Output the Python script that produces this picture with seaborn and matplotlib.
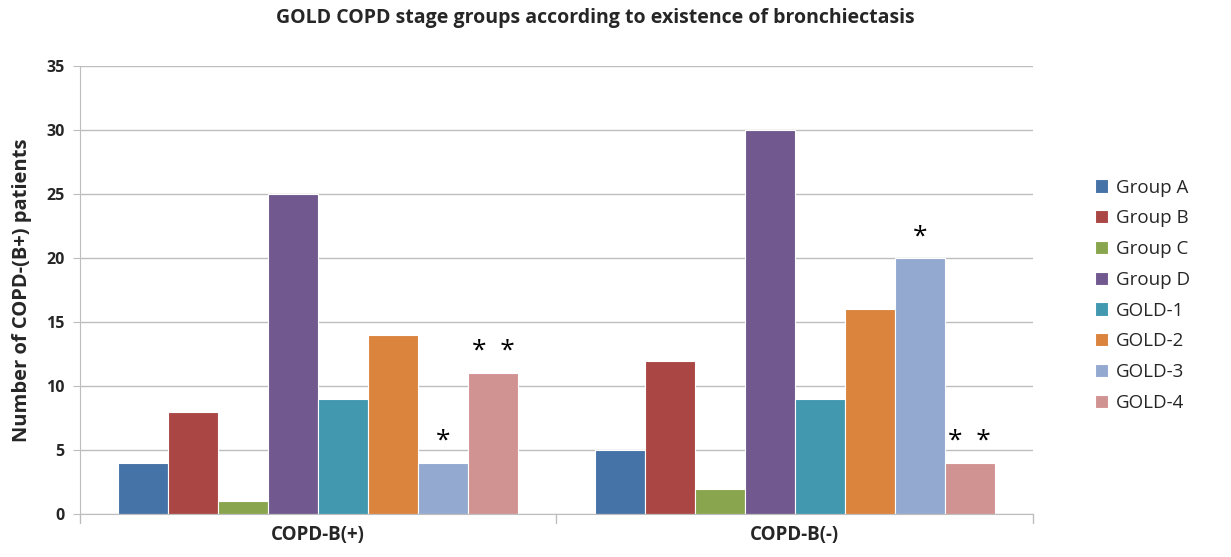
import pandas as pd
import matplotlib.pyplot as plt
import seaborn as sns

# Data
groups = ['COPD-B(+)', 'COPD-B(-)']
series = ['Group A', 'Group B', 'Group C', 'Group D',
          'GOLD-1', 'GOLD-2', 'GOLD-3', 'GOLD-4']
b_pos = [4, 8, 1, 25, 9, 14, 4, 11]
b_neg = [5, 12, 2, 30, 9, 16, 20, 4]
marks_pos = ['', '', '', '', '', '', '*', '*  *']
marks_neg = ['', '', '', '', '', '', '*', '*  *']
colors = ['#4572A7', '#AA4643', '#89A54E', '#71588F',
          '#4198AF', '#DB843D', '#93A9CF', '#D19392']

df = pd.DataFrame({
    'group': [groups[0]] * len(series) + [groups[1]] * len(series),
    'series': series * 2,
    'value': b_pos + b_neg,
})

sns.set_style('white')
plt.rcParams['font.family'] = ['Open Sans', 'DejaVu Sans']

fig = plt.figure(figsize=(12.31, 5.57), dpi=100)
ax = fig.add_axes([0.065, 0.077, 0.774, 0.804])

sns.barplot(data=df, x='group', y='value', hue='series', palette=colors,
            width=0.84, edgecolor='white', linewidth=0.8, ax=ax,
            saturation=1, legend=True)

# asterisks above bars
marks = [marks_pos, marks_neg]
for i, cont in enumerate(ax.containers):
    for j, bar in enumerate(cont):
        m = marks[j][i]
        if m:
            ax.text(bar.get_x() + bar.get_width() / 2, bar.get_height() + 0.7, m,
                    ha='center', va='bottom', fontsize=19, color='black')

ax.set_ylim(0, 35)
ax.set_yticks(range(0, 36, 5))
ax.yaxis.grid(True, color='#bdbdbd', linewidth=1)
ax.set_axisbelow(True)
for s in ['top', 'right']:
    ax.spines[s].set_visible(False)
ax.spines['left'].set_color('#bdbdbd')
ax.spines['bottom'].set_color('#bdbdbd')
ax.tick_params(axis='y', length=5, color='#bdbdbd', left=True, labelsize=11.5, pad=6)
ax.tick_params(axis='x', length=0, labelsize=13.5, pad=8)
for lbl in ax.get_yticklabels() + ax.get_xticklabels():
    lbl.set_fontweight('bold')
for xv in [-0.5, 0.5, 1.5]:
    ax.axvline(xv, ymin=-0.02, ymax=0, color='#bdbdbd', linewidth=1, clip_on=False)

ax.set_xlabel('')
ax.set_ylabel('Number of COPD-(B+) patients', fontsize=14.5, fontweight='bold', labelpad=10)
fig.suptitle('GOLD COPD stage groups according to existence of bronchiectasis',
             fontsize=14, fontweight='bold', x=0.484, y=0.985)

handles, labels = ax.get_legend_handles_labels()
ax.legend_.remove()
fig.legend(handles, labels, loc='center left', bbox_to_anchor=(0.876, 0.47),
           frameon=False, fontsize=13.5, handlelength=0.7, handleheight=0.7,
           handletextpad=0.4, labelspacing=0.68)

fig.savefig('out.png', dpi=100)
